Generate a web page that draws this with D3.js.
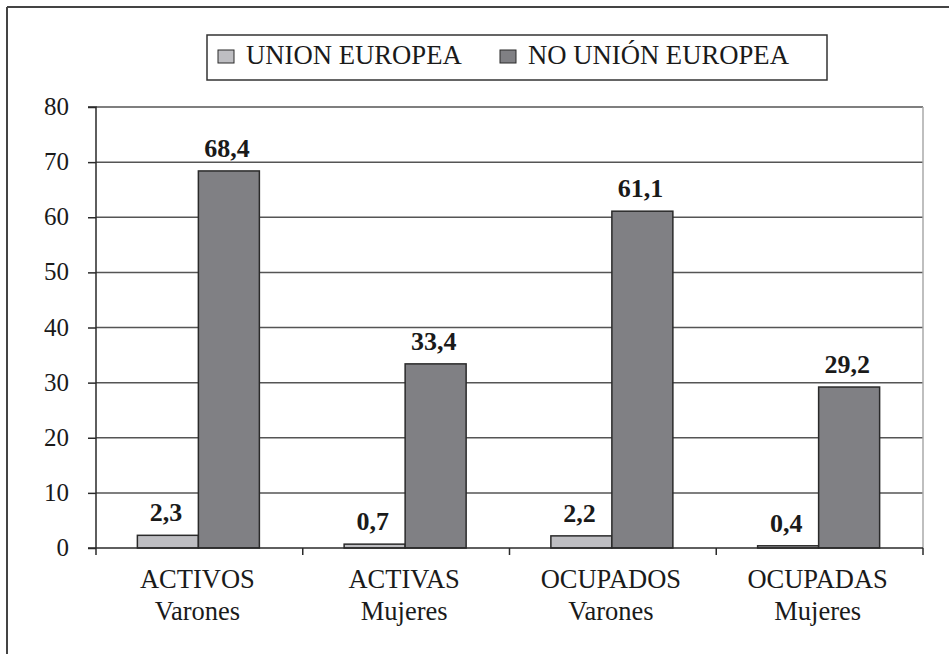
<!DOCTYPE html>
<html><head><meta charset="utf-8">
<script src="https://cdn.jsdelivr.net/npm/d3@7"></script>
<style>body{margin:0;background:#fff}svg{display:block}svg text{font-family:"Liberation Serif","Tinos","Times New Roman","DejaVu Serif",serif}</style>
</head><body>
<svg id="c" width="949" height="654"></svg>
<script>
const categories = [["ACTIVOS","Varones"],["ACTIVAS","Mujeres"],["OCUPADOS","Varones"],["OCUPADAS","Mujeres"]];
const seriesNames = ["UNION EUROPEA","NO UNIÓN EUROPEA"];
const unionEuropea = [2.3, 0.7, 2.2, 0.4];
const noUnionEuropea = [68.4, 33.4, 61.1, 29.2];
const yTicks = [0,10,20,30,40,50,60,70,80];
const colors = ["#bebec2","#808084"];

(function(){
const svg = d3.select("#c");
// frame (top and left)
svg.append("line").attr("x1",7).attr("x2",949).attr("y1",7).attr("y2",7).attr("stroke","#444").attr("stroke-width",2);
svg.append("line").attr("x1",7).attr("x2",7).attr("y1",7).attr("y2",654).attr("stroke","#444").attr("stroke-width",2);

const pLeft=96, pRight=923, pTop=107, pBottom=548;
const y = d3.scaleLinear().domain([0,80]).range([pBottom, pTop]);
const x = d3.scaleBand().domain(d3.range(categories.length)).range([pLeft,pRight]).padding(0);
const bw = x.bandwidth();
const x1 = d3.scaleBand().domain([0,1]).range([bw/2-62, bw/2+60]).padding(0);

// gridlines
svg.append("g").selectAll("line").data(yTicks.filter(d=>d>0)).join("line")
  .attr("x1",pLeft).attr("x2",pRight).attr("y1",d=>y(d)).attr("y2",d=>y(d))
  .attr("stroke","#555").attr("stroke-width",1.5);
// right plot border
svg.append("line").attr("x1",pRight).attr("x2",pRight).attr("y1",pTop).attr("y2",pBottom)
  .attr("stroke","#aaa").attr("stroke-width",1.5);

// bars
const data = categories.map((c,i)=>[unionEuropea[i], noUnionEuropea[i]]);
const g = svg.append("g").selectAll("g").data(data).join("g")
  .attr("transform",(d,i)=>`translate(${x(i)},0)`);
g.selectAll("rect").data(d=>d).join("rect")
  .attr("x",(d,j)=>x1(j)).attr("width",x1.bandwidth())
  .attr("y",d=>y(d)).attr("height",d=>y(0)-y(d))
  .attr("fill",(d,j)=>colors[j]).attr("stroke","#2a2a2a").attr("stroke-width",1.5);
g.selectAll("text").data(d=>d).join("text")
  .attr("x",(d,j)=>x1(j)+x1.bandwidth()/2-2).attr("y",d=>y(d)-14)
  .attr("text-anchor","middle").attr("font-weight","bold")
  .attr("font-size",26).attr("fill","#1a1a1a")
  .text(d=>d3.format(".1f")(d).replace(".",","));

// y axis
const yAxis = d3.axisLeft(y).tickValues(yTicks).tickSize(8).tickPadding(19);
const ya = svg.append("g").attr("transform",`translate(${pLeft},0)`).call(yAxis);
ya.attr("font-family",null);
ya.select(".domain").attr("stroke","#2a2a2a").attr("stroke-width",1.5).attr("d",`M-8,${pTop}H0V${pBottom}`);
ya.selectAll(".tick line").attr("stroke","#2a2a2a").attr("stroke-width",1.5);
ya.selectAll(".tick text").attr("font-size",25).attr("fill","#1a1a1a").attr("dy","0.3em");

// x axis
const edges = d3.range(categories.length+1).map(i=>pLeft+i*bw);
svg.append("line").attr("x1",pLeft-8).attr("x2",pRight).attr("y1",pBottom).attr("y2",pBottom).attr("stroke","#2a2a2a").attr("stroke-width",1.5);
svg.append("g").selectAll("line").data(edges).join("line")
  .attr("x1",d=>d).attr("x2",d=>d).attr("y1",pBottom).attr("y2",pBottom+7)
  .attr("stroke","#2a2a2a").attr("stroke-width",1.5);
const cl = svg.append("g").selectAll("text").data(categories).join("text")
  .attr("x",(d,i)=>x(i)+bw/2-2).attr("y",588).attr("text-anchor","middle")
  .attr("font-size",26.5).attr("fill","#1a1a1a");
cl.append("tspan").attr("x",(d,i)=>x(i)+bw/2-2).attr("y",588).text(d=>d[0]);
cl.append("tspan").attr("x",(d,i)=>x(i)+bw/2-2).attr("y",620).text(d=>d[1]);

// legend
const lg = svg.append("g");
lg.append("rect").attr("x",207).attr("y",35).attr("width",620).attr("height",45)
  .attr("fill","#fff").attr("stroke","#333").attr("stroke-width",1.5);
const legendX = [218, 500];
seriesNames.forEach((n,j)=>{
  lg.append("rect").attr("x",legendX[j]).attr("y",50).attr("width",16).attr("height",13)
    .attr("fill",colors[j]).attr("stroke","#2a2a2a").attr("stroke-width",1);
  lg.append("text").attr("x",legendX[j]+28).attr("y",64)
    .attr("font-size",26.7).attr("fill","#1a1a1a").text(n);
});
})();
</script>
</body></html>
